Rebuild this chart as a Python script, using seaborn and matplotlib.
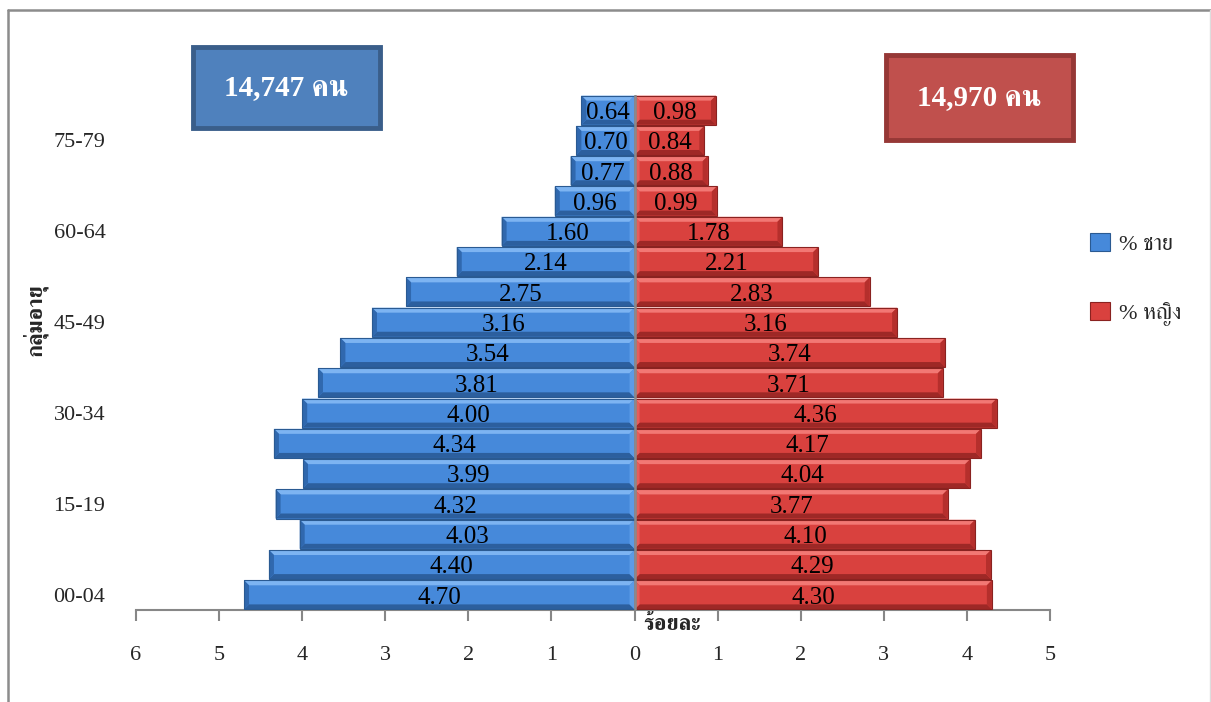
import matplotlib
matplotlib.use("Agg")
import matplotlib.pyplot as plt
from matplotlib.patches import Polygon, Rectangle
from matplotlib.lines import Line2D
import seaborn as sns
import pandas as pd

# Age groups (bottom to top) and percentage of population by sex
age_groups = ["00-04", "05-09", "10-14", "15-19", "20-24", "25-29", "30-34",
              "35-39", "40-44", "45-49", "50-54", "55-59", "60-64", "65-69",
              "70-74", "75-79", "80+"]
male_pct = [4.70, 4.40, 4.03, 4.32, 3.99, 4.34, 4.00, 3.81, 3.54, 3.16,
            2.75, 2.14, 1.60, 0.96, 0.77, 0.70, 0.64]
female_pct = [4.30, 4.29, 4.10, 3.77, 4.04, 4.17, 4.36, 3.71, 3.74, 3.16,
              2.83, 2.21, 1.78, 0.99, 0.88, 0.84, 0.98]
shown_age_labels = ["00-04", "15-19", "30-34", "45-49", "60-64", "75-79"]
series_names = ["% ชาย", "% หญิง"]
male_total = "14,747 คน"
female_total = "14,970 คน"
x_ticks = list(range(-6, 6))

sns.set_style("white")
plt.rcParams["font.family"] = ["Liberation Serif", "FreeSerif"]

W, H = 1211, 702
fig = plt.figure(figsize=(W / 100, H / 100), dpi=100)
ax = fig.add_axes([136 / W, 1 - 610 / H, 914 / W, 515 / H])

df = pd.DataFrame({
    "age": age_groups * 2,
    "sex": [series_names[0]] * len(age_groups) + [series_names[1]] * len(age_groups),
    "pct": [-v for v in male_pct] + female_pct,
})

face = {series_names[0]: "#4689DA", series_names[1]: "#D9413E"}
sns.barplot(data=df, y="age", x="pct", hue="sex", order=age_groups[::-1],
            hue_order=series_names, palette=face, dodge=False, orient="h",
            width=0.96, errorbar=None, saturation=1, ax=ax, zorder=2,
            edgecolor="none", linewidth=0)

ax.set_xlim(-6, 5)
ax.set_ylim(len(age_groups) - 0.5, -0.5)

# Bevelled look for each bar
bevel_cols = {
    "#4689DA": dict(top="#7DB4F2", bottom="#2C5F9E", outer="#3068AE", inner="#5C9BE6", edge="#2A5A92"),
    "#D9413E": dict(top="#F27874", bottom="#9E2826", outer="#B52F2C", inner="#E65D5A", edge="#8A2220"),
}
px_x = 914 / 11
px_y = 515 / len(age_groups)
bx, by = 5 / px_x, 5 / px_y
for p in list(ax.patches):
    x0, y0 = p.get_x(), p.get_y()
    w, h = p.get_width(), p.get_height()
    xl, xr = min(x0, x0 + w), max(x0, x0 + w)
    yt, yb = min(y0, y0 + h), max(y0, y0 + h)  # inverted axis: smaller y is on top
    r, g, b, _ = p.get_facecolor()
    key = "#{:02X}{:02X}{:02X}".format(round(r * 255), round(g * 255), round(b * 255))
    c = bevel_cols.get(key)
    if c is None or abs(w) < 1e-9:
        continue
    male = (x0 + w) < 0 or w < 0
    left_c = c["outer"] if male else c["inner"]
    right_c = c["inner"] if male else c["outer"]
    polys = [
        ([(xl, yt), (xr, yt), (xr - bx, yt + by), (xl + bx, yt + by)], c["top"]),
        ([(xl, yb), (xr, yb), (xr - bx, yb - by), (xl + bx, yb - by)], c["bottom"]),
        ([(xl, yt), (xl + bx, yt + by), (xl + bx, yb - by), (xl, yb)], left_c),
        ([(xr, yt), (xr - bx, yt + by), (xr - bx, yb - by), (xr, yb)], right_c),
    ]
    for pts, col in polys:
        ax.add_patch(Polygon(pts, closed=True, facecolor=col, edgecolor="none", zorder=3))
    ax.add_patch(Rectangle((xl, yt), xr - xl, yb - yt, facecolor="none",
                           edgecolor=c["edge"], linewidth=0.8, zorder=4))

for cont in ax.containers:
    texts = ax.bar_label(cont, fmt=lambda v: f"{abs(v):.2f}", label_type="center",
                         fontsize=18, color="black", zorder=6)
    for t in texts:
        t.xyann = (0, -2)

# Centre line
ax.axvline(0, color="#8A8A8A", lw=1.8, zorder=5)

# Axes styling
for s in ["top", "right", "left"]:
    ax.spines[s].set_visible(False)
ax.spines["bottom"].set_color("#878787")
ax.spines["bottom"].set_linewidth(1.5)
ax.set_xticks(x_ticks)
ax.set_xticklabels([str(abs(t)) for t in x_ticks], fontsize=16)
ax.tick_params(axis="x", bottom=True, direction="out", length=8, width=1.5,
               color="#878787", pad=18)
ax.set_yticks(range(len(age_groups)))
ax.set_yticklabels([a if a in shown_age_labels else "" for a in age_groups[::-1]], fontsize=16)
ax.tick_params(axis="y", left=False, length=0, pad=22)
ax.grid(False)

ax.set_xlabel("")
ax.set_ylabel("กลุ่มอายุ", fontsize=16, fontweight="bold")
ax.yaxis.set_label_coords((48 - 136) / 914, (610 - 320) / 515)
ax.text((672 - 136) / 914, (610 - 625) / 515, "ร้อยละ", transform=ax.transAxes,
        ha="center", va="center", fontsize=16, fontweight="bold")

# Legend
handles, labels = ax.get_legend_handles_labels()
leg = ax.legend(handles, labels, loc="upper left",
                bbox_to_anchor=(1070 / W, 1 - 213 / H), bbox_transform=fig.transFigure,
                frameon=False, prop=dict(size=16), labelspacing=2.1,
                handlelength=0.9, handleheight=0.9, handletextpad=0.4)
for hnd, ec in zip(leg.legend_handles, ["#2A5A92", "#8A2220"]):
    hnd.set_edgecolor(ec)
    hnd.set_linewidth(0.8)

# Total boxes
fig.add_artist(Rectangle((193 / W, 1 - 128 / H), 187 / W, 81 / H, transform=fig.transFigure,
                         facecolor="#4F81BD", edgecolor="#3A5E8A", linewidth=3.5))
fig.text(286 / W, 1 - 88 / H, male_total, ha="center", va="center", color="white",
         fontsize=21, fontweight="bold")
fig.add_artist(Rectangle((886 / W, 1 - 140 / H), 187 / W, 85 / H, transform=fig.transFigure,
                         facecolor="#C0504D", edgecolor="#963836", linewidth=3.5))
fig.text(979 / W, 1 - 98 / H, female_total, ha="center", va="center", color="white",
         fontsize=21, fontweight="bold")

# Chart area border
fig.add_artist(Line2D([7.5 / W, 7.5 / W], [0, 1 - 10 / H], transform=fig.transFigure,
                      color="#8C8C8C", lw=1.8))
fig.add_artist(Line2D([7.5 / W, 1], [1 - 10 / H, 1 - 10 / H], transform=fig.transFigure,
                      color="#8C8C8C", lw=1.8))
fig.add_artist(Line2D([1209.5 / W, 1209.5 / W], [0, 1 - 10 / H], transform=fig.transFigure,
                      color="#DDDDDD", lw=1))

fig.savefig("out.png", dpi=100)
